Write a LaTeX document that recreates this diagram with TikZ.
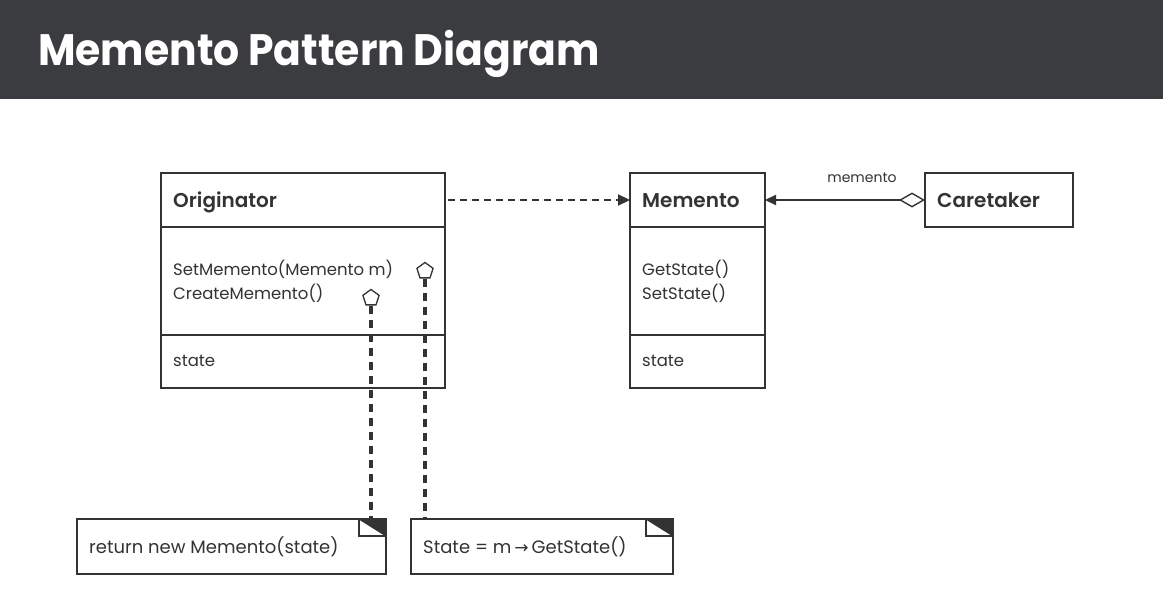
\documentclass[tikz,border=0pt]{standalone}
\usepackage{fontspec}
\setmainfont{Poppins}[BoldFont=* SemiBold]
\newfontfamily\titlefont{Poppins}[UprightFont=* Bold]
\newfontfamily\symfont{DejaVu Sans}
\usetikzlibrary{arrows.meta,shapes.geometric}
\definecolor{band}{HTML}{3B3C40}
\definecolor{ink}{HTML}{333333}
\tikzset{
  x=1pt, y=-1pt,
  frame/.style={draw=ink, line width=1.7pt, fill=white},
  rule/.style={draw=ink, line width=1.7pt},
  classname/.style={anchor=base west, inner sep=0pt, text=ink, font=\fontsize{20}{24}\selectfont\bfseries},
  member/.style={anchor=base west, inner sep=0pt, text=ink, align=left, font=\fontsize{16.5}{22}\selectfont},
  notetext/.style={anchor=base west, inner sep=0pt, text=ink, font=\fontsize{18}{22}\selectfont},
  marker/.style={regular polygon, regular polygon sides=5, draw=ink, line width=1.3pt, fill=white, minimum size=17pt, inner sep=0pt},
  dep/.style={draw=ink, line width=2.2pt, dash pattern=on 7pt off 5pt},
  link/.style={draw=ink, line width=3.2pt, dash pattern=on 8pt off 6pt},
}
\begin{document}
\begin{tikzpicture}
\useasboundingbox (0,0) rectangle (1163,602);
\fill[white] (0,0) rectangle (1163,602);
% title band
\fill[band] (0,0) rectangle (1163,99);
\node[anchor=base west, inner sep=0pt, text=white] (title) at (38,66)
  {\scalebox{0.93}[1]{\fontsize{44}{50}\titlefont Memento Pattern Diagram}};

% Originator class
\draw[frame] (161,173) rectangle (445,388);
\draw[rule] (161,227) -- (445,227);
\draw[rule] (161,335) -- (445,335);
\coordinate (orig) at (445,200);
\node[classname] (origname) at (173,207) {Originator};
\node[member] (origops1) at (173,275) {SetMemento(Memento m)};
\node[member] (origops2) at (173,299) {CreateMemento()};
\node[member] (origstate) at (173,366) {state};

% Memento class
\draw[frame] (630,173) rectangle (765,388);
\draw[rule] (630,227) -- (765,227);
\draw[rule] (630,335) -- (765,335);
\coordinate (mem) at (630,200);
\coordinate (memr) at (765,200);
\node[classname] (memname) at (642,207) {Memento};
\node[member] (memops1) at (642,275) {GetState()};
\node[member] (memops2) at (642,299) {SetState()};
\node[member] (memstate) at (642,366) {state};

% Caretaker class
\draw[frame] (925,173) rectangle (1073,227);
\coordinate (care) at (925,200);
\node[classname] (carename) at (937,207) {Caretaker};

% relations between the classes
\draw[dep, -{Triangle[length=12pt,width=11pt]}] ([xshift=3pt]orig) -- (mem);
\draw[draw=ink, line width=2.2pt, {Triangle[length=11pt,width=10pt]}-{Diamond[open,length=26pt,width=15pt,fill=white,line width=1.4pt]}] (memr) -- (care);
\node[anchor=base, inner sep=0pt, text=ink, font=\fontsize{14}{16}\selectfont] (rolename) at (862,182) {memento};

% notes
\foreach \nm/\xl/\xr in {note1/77/386, note2/411/673}{
  \draw[frame] (\xl,519) rectangle (\xr,574);
  \fill[ink] (\xr-27,519) -- (\xr,519) -- (\xr,536) -- cycle;
  \draw[draw=ink, line width=1.5pt] (\xr-27,519) -- (\xr-27,536) -- (\xr,536);
  \draw[draw=ink, line width=1pt] (\xr-27,519) -- (\xr,536);
}
\coordinate (n1top) at (371,519);
\coordinate (n2top) at (425,519);
\node[notetext] (n1text) at (89,553) {return new Memento(state)};
\node[notetext] (n2text) at (423,553) {State = m\,{\symfont\fontsize{17}{18}\selectfont →}\,GetState()};

% note anchors on the operations
\node[marker] (p1) at (371,298) {};
\node[marker] (p2) at (425,271) {};
\draw[link] (p1.south) -- (p1.south |- n1top);
\draw[link] (p2.south) -- (p2.south |- n2top);
\end{tikzpicture}
\end{document}
